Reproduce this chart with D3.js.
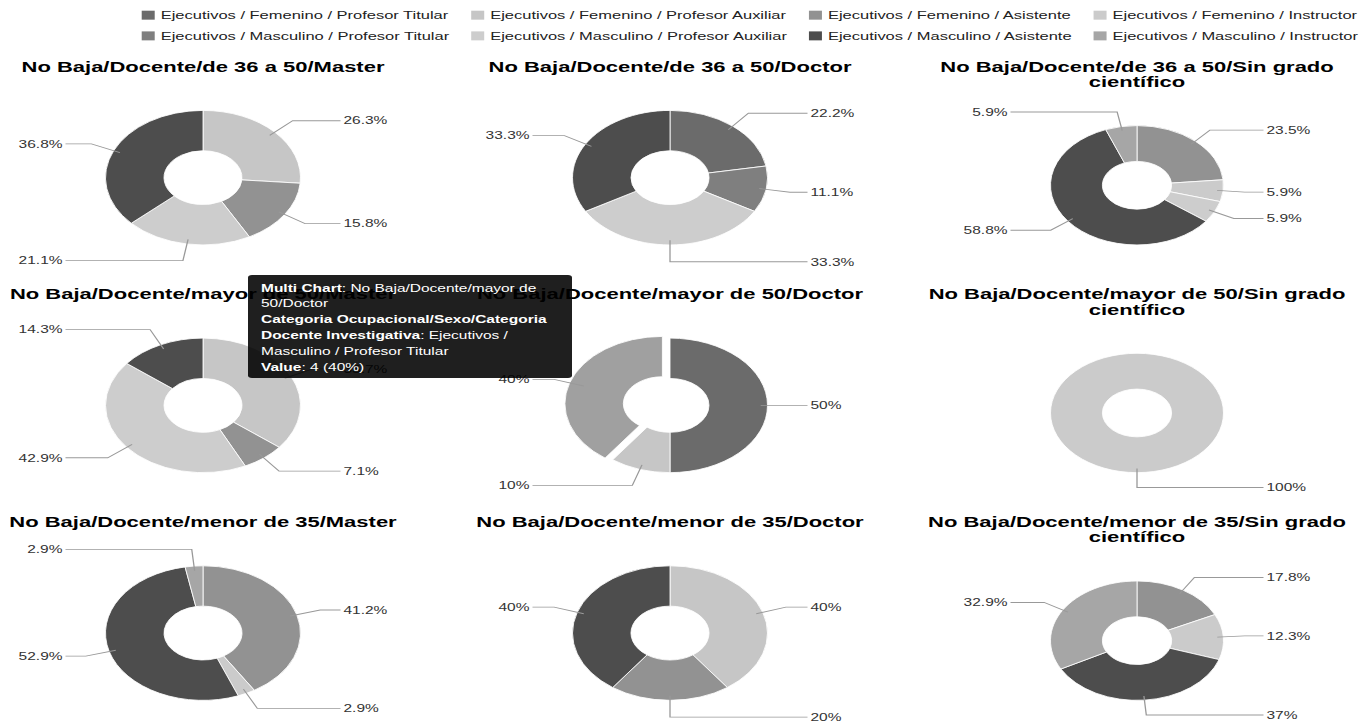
<!DOCTYPE html>
<html>
<head>
<meta charset="utf-8">
<script src="https://cdn.jsdelivr.net/npm/d3@7"></script>
<style>
    body { margin: 0; background: #fff; }
    svg text { font-family: "Liberation Sans", Arial, sans-serif; white-space: pre; }
</style>
</head>
<body>
<svg id="chart"></svg>
<script>
    // categories (legend order) and their greys
    const categories = [
        "Ejecutivos / Femenino / Profesor Titular",
        "Ejecutivos / Femenino / Profesor Auxiliar",
        "Ejecutivos / Femenino / Asistente",
        "Ejecutivos / Femenino / Instructor",
        "Ejecutivos / Masculino / Profesor Titular",
        "Ejecutivos / Masculino / Profesor Auxiliar",
        "Ejecutivos / Masculino / Asistente",
        "Ejecutivos / Masculino / Instructor"
    ];
    const colors = ["#6b6b6b", "#c6c6c6", "#929292", "#cbcbcb", "#7f7f7f", "#cdcdcd", "#4d4d4d", "#a6a6a6"];

    const chartTitles = [
        "No Baja/Docente/de 36 a 50/Master",
        "No Baja/Docente/de 36 a 50/Doctor",
        "No Baja/Docente/de 36 a 50/Sin grado científico",
        "No Baja/Docente/mayor de 50/Master",
        "No Baja/Docente/mayor de 50/Doctor",
        "No Baja/Docente/mayor de 50/Sin grado científico",
        "No Baja/Docente/menor de 35/Master",
        "No Baja/Docente/menor de 35/Doctor",
        "No Baja/Docente/menor de 35/Sin grado científico"
    ];

    // counts per chart, in category order
    const de36Master    = [0, 5, 3, 0, 0, 4, 7, 0];
    const de36Doctor    = [2, 0, 0, 0, 1, 3, 3, 0];
    const de36SinGrado  = [0, 0, 4, 1, 0, 1, 10, 1];
    const mayorMaster   = [0, 5, 1, 0, 0, 6, 2, 0];
    const mayorDoctor   = [5, 1, 0, 0, 4, 0, 0, 0];
    const mayorSinGrado = [0, 0, 0, 1, 0, 0, 0, 0];
    const menorMaster   = [0, 0, 14, 1, 0, 0, 18, 1];
    const menorDoctor   = [0, 2, 1, 0, 0, 0, 2, 0];
    const menorSinGrado = [0, 0, 13, 9, 0, 0, 27, 24];

    const chartValues = [de36Master, de36Doctor, de36SinGrado,
                         mayorMaster, mayorDoctor, mayorSinGrado,
                         menorMaster, menorDoctor, menorSinGrado];

    // hovered slice shown in the picture
    const hoverChart = 4, hoverCat = 4;

    var W = 1366, H = 722, sy = 0.69, VH = H / sy;

    var svg = d3.select("#chart")
        .attr("width", W)
        .attr("height", H)
        .attr("viewBox", "0 0 " + W + " " + VH)
        .attr("preserveAspectRatio", "none");

    var measurer = svg.append("text").attr("visibility", "hidden").attr("xml:space", "preserve");
    function textWidth(s, size, bold) {
        measurer.attr("font-size", size)
            .attr("font-weight", bold ? "bold" : "normal")
            .text(s);
        return measurer.node().getComputedTextLength();
    }

    var color = d3.scaleOrdinal().domain(categories).range(colors);
    var fmtPct = function (p) { return (Math.round(p * 1000) / 10) + "%"; };

    // ---- legend ----
    var legendFont = 16.5, sw = 13, sh = 13, swGap = 6, colGap = 22, legendRight = 1358;
    var legendRows = [22, 52];
    var colW = [0, 1, 2, 3].map(function (c) {
        return Math.max(textWidth(categories[c], legendFont), textWidth(categories[c + 4], legendFont));
    });
    var legendTotal = d3.sum(colW) + 4 * (sw + swGap) + 3 * colGap;
    var colStart = [], acc = legendRight - legendTotal;
    colW.forEach(function (w) { colStart.push(acc); acc += sw + swGap + w + colGap; });

    var legend = svg.append("g").attr("class", "legend");
    categories.forEach(function (cat, i) {
        var row = Math.floor(i / 4), col = i % 4;
        var g = legend.append("g").attr("transform", "translate(" + colStart[col] + "," + legendRows[row] + ")");
        g.append("rect").attr("x", 0).attr("y", -sh / 2).attr("width", sw).attr("height", sh).attr("fill", color(cat));
        g.append("text").attr("x", sw + swGap).attr("y", 0).attr("dy", "0.35em")
            .attr("font-size", legendFont).attr("fill", "#222").text(cat);
    });

    // ---- pies ----
    var colX = [203, 670, 1137];
    var row0 = 104, rowStep = 330, lineH = 22, titleFont = 22, titleMax = 460;
    var labelFont = 15.5;

    function wrapWords(str, size, bold, maxW) {
        var words = str.split(" "), lines = [], cur = "";
        words.forEach(function (w) {
            var test = cur ? cur + " " + w : w;
            if (cur && textWidth(test, size, bold) > maxW) { lines.push(cur); cur = w; }
            else cur = test;
        });
        if (cur) lines.push(cur);
        return lines;
    }

    var pie = d3.pie().sort(null).value(function (d) { return d.v; });

    chartTitles.forEach(function (title, k) {
        var row = Math.floor(k / 3), col = k % 3;
        var cx = colX[col];
        var base = row0 + row * rowStep;
        var lines = wrapWords(title, titleFont, true, titleMax);

        svg.append("g").selectAll("text").data(lines).enter().append("text")
            .attr("x", cx)
            .attr("y", function (d, i) { return base + i * lineH; })
            .attr("text-anchor", "middle")
            .attr("font-size", titleFont)
            .attr("font-weight", "bold")
            .attr("fill", "#000")
            .text(function (d) { return d; });

        var top = base + (lines.length - 1) * lineH + 56;
        var bottom = base + 251;
        var r = (bottom - top) / 2, cy = (top + bottom) / 2;

        var data = chartValues[k].map(function (v, i) { return { cat: categories[i], idx: i, v: v }; })
            .filter(function (d) { return d.v > 0; });
        var total = d3.sum(data, function (d) { return d.v; });
        var arcs = pie(data);
        var arc = d3.arc().innerRadius(r * 0.4).outerRadius(r);

        var g = svg.append("g").attr("transform", "translate(" + cx + "," + cy + ")");

        g.selectAll("path").data(arcs).enter().append("path")
            .attr("d", arc)
            .attr("fill", function (d) {
                var c = color(d.data.cat);
                return (k === hoverChart && d.data.idx === hoverCat) ? d3.color(c).brighter(0.65) : c;
            })
            .attr("stroke", "#fff")
            .attr("stroke-width", 1)
            .attr("transform", function (d) {
                if (k === hoverChart && d.data.idx === hoverCat) {
                    var a = (d.startAngle + d.endAngle) / 2;
                    return "translate(" + (Math.sin(a) * 8) + "," + (-Math.cos(a) * 8) + ")";
                }
                return null;
            });

        arcs.forEach(function (d) {
            var a = (d.startAngle + d.endAngle) / 2;
            var s = Math.sin(a), c = -Math.cos(a);
            var side = s >= 0 ? 1 : -1;
            var p1 = [s * r * 0.93, c * r * 0.93];
            var p2 = [s * r * 1.25, c * r * 1.25];
            var p3 = [side * (r + 40), p2[1]];
            g.append("polyline")
                .attr("points", [p1, p2, p3].map(function (p) { return p.join(","); }).join(" "))
                .attr("fill", "none")
                .attr("stroke", "#999")
                .attr("stroke-width", 1.3);
            g.append("text")
                .attr("x", side * (r + 43))
                .attr("y", p2[1])
                .attr("dy", "0.35em")
                .attr("text-anchor", side > 0 ? "start" : "end")
                .attr("font-size", labelFont)
                .attr("fill", "#333")
                .text(fmtPct(d.data.v / total));
        });
    });

    // ---- tooltip over the hovered slice ----
    var hv = chartValues[hoverChart][hoverCat];
    var hvTotal = d3.sum(chartValues[hoverChart]);
    var segs = [
        { text: "Multi Chart", bold: true },
        { text: ": " + chartTitles[hoverChart] },
        { text: "Categoria Ocupacional/Sexo/Categoria Docente Investigativa", bold: true, newline: true },
        { text: ": " + categories[hoverCat] },
        { text: "Value", bold: true, newline: true },
        { text: ": " + hv + " (" + fmtPct(hv / hvTotal) + ")" }
    ];
    var tipFont = 15.5, tipMax = 298, tipW = 324, tipPad = 13;
    var tipLines = [], line = [], lineW = 0;
    segs.forEach(function (seg) {
        if (seg.newline && line.length) { tipLines.push(line); line = []; lineW = 0; }
        var pieces = seg.text.split(/(\s+)/);
        var pending = "";
        pieces.forEach(function (p) {
            if (p === "") return;
            if (/^\s+$/.test(p)) { pending += p; return; }
            var w = textWidth(pending + p, tipFont, seg.bold);
            if (line.length && lineW + w > tipMax) {
                tipLines.push(line); line = []; lineW = 0;
                w = textWidth(p, tipFont, seg.bold);
                line.push({ text: p, bold: seg.bold });
            } else {
                line.push({ text: pending + p, bold: seg.bold });
            }
            lineW += w;
            pending = "";
        });
    });
    if (line.length) tipLines.push(line);

    var tipX = 248, tipY = 398.5, tipLineH = 22.9;
    var tip = svg.append("g").attr("class", "toolTip").attr("transform", "translate(" + tipX + "," + tipY + ")");
    tip.append("rect")
        .attr("width", tipW)
        .attr("height", tipLines.length * tipLineH + 12)
        .attr("rx", 4)
        .attr("fill", "#000")
        .attr("fill-opacity", 0.88);
    tipLines.forEach(function (ln, i) {
        var t = tip.append("text")
            .attr("x", tipPad)
            .attr("y", 24 + i * tipLineH)
            .attr("font-size", tipFont)
            .attr("fill", "#fff")
            .attr("xml:space", "preserve");
        ln.forEach(function (p) {
            t.append("tspan")
                .attr("font-weight", p.bold ? "bold" : "normal")
                .text(p.text);
        });
    });
</script>
</body>
</html>
